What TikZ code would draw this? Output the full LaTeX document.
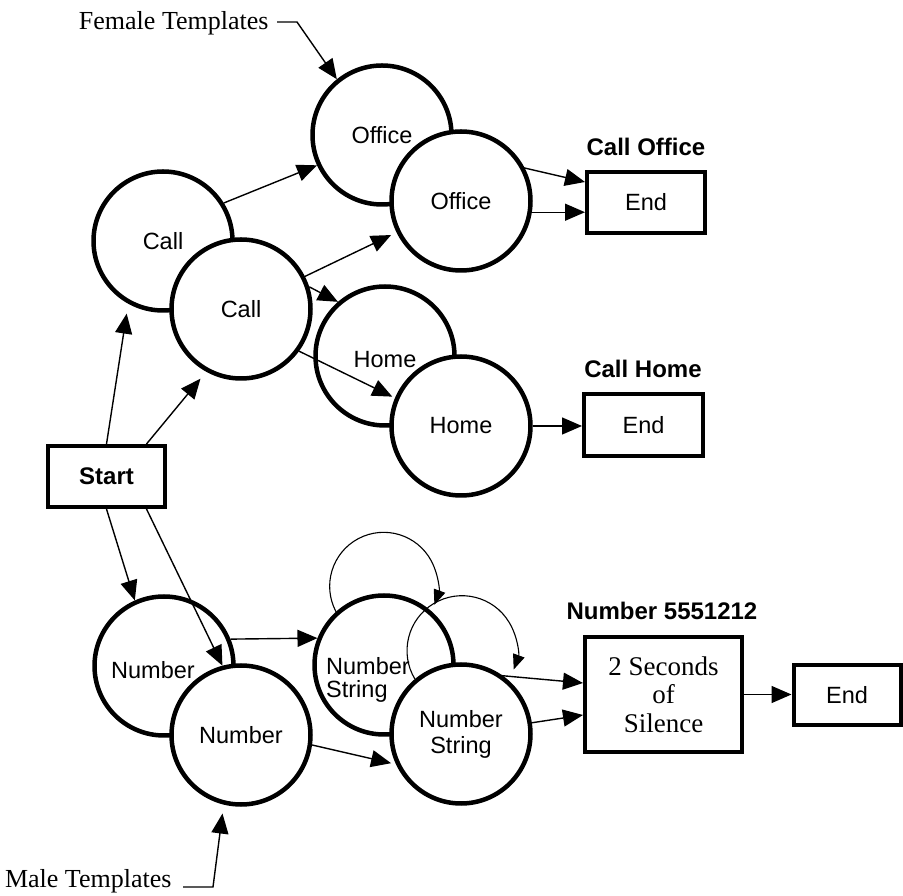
\documentclass[tikz,border=0pt]{standalone}
\usepackage{fontspec}
\setmainfont{Liberation Serif}
\setsansfont{Liberation Sans}
\usetikzlibrary{arrows.meta,calc}
\pgfdeclarelayer{bg}
\pgfsetlayers{bg,main}
\tikzset{
 cf/.style={font=\sffamily\fontsize{23.5}{26}\selectfont},
 st/.style={circle,draw,line width=4.5pt,fill=white,minimum size=139pt,inner sep=0pt,cf,align=center},
 bx/.style={rectangle,draw,line width=4pt,fill=white,inner sep=0pt,cf},
 lbl/.style={font=\sffamily\bfseries\fontsize{24}{26}\selectfont},
 ann/.style={font=\rmfamily\fontsize{26}{28}\selectfont},
 arr/.style={line width=1.4pt,-{Triangle[length=20pt,width=17pt]}},
 lp/.style={line width=1.1pt,-{Triangle[length=15pt,width=12pt]}},
}
\begin{document}
\begin{tikzpicture}[x=1pt,y=1pt]
\begin{pgfonlayer}{bg}
\fill[white] (0,0) rectangle (903,895);
\end{pgfonlayer}
\useasboundingbox (0,0) rectangle (903,895);
% circles
\node[st] (Call1) at (163,654) {Call};
\node[st] (Call2) at (241,586) {Call};
\node[st] (Office1) at (382,760) {Office};
\node[st] (Office2) at (461,694) {Office};
\node[st] (Home1) at (385,539) {};
\node[cf] (Home1t) at ($(Home1)+(0,-4)$) {Home};
\node[st] (Home2) at (461,469) {Home};
\node[st] (Number1) at (164,229) {};
\node[cf] (Number1t) at ($(Number1)+(-11,-4)$) {Number};
\node[st] (Number2) at (241,160) {Number};
\node[st] (NS1) at (384,230) {};
\node[font=\sffamily\fontsize{23.5}{23}\selectfont,align=left,inner sep=0pt] (NS1t) at ($(NS1)+(-16,-15)$) {Number\\String};
\node[st] (NS2) at (461,161) {Number\\String};
% boxes
\node[bx,minimum width=117pt,minimum height=61pt,font=\sffamily\bfseries\fontsize{24}{26}\selectfont] (Start) at (106.5,418.5) {Start};
\node[bx,minimum width=118pt,minimum height=61pt] (End1) at (646,692.5) {End};
\node[lbl] (lblOffice) at (646,748) {Call Office};
\node[bx,minimum width=119pt,minimum height=62pt] (End2) at (643.5,470) {End};
\node[lbl] (lblHome) at (643,526) {Call Home};
\node[bx,minimum width=157pt,minimum height=115pt,font=\rmfamily\fontsize{27}{28.5}\selectfont,align=center] (Sil) at (663.5,200.5) {2 Seconds\\of\\Silence};
\node[lbl] (lblNum) at (662,284) {Number 5551212};
\node[bx,minimum width=107pt,minimum height=60pt] (End3) at (847,200) {End};
% annotations
\node[ann,anchor=base east] (fem) at (272,865) {Female Templates};
\node[ann,anchor=base east] (male) at (175,8) {Male Templates};
\draw[arr] ($(fem.base east)+(5,8)$) -- ++(20,0) -- (Office1.129);
\draw[arr,shorten >=9pt] ($(male.base east)+(8,0)$) -- ++(30,0) -- (Number2.-104);
% hidden connectors
\begin{pgfonlayer}{bg}
\draw[arr] (Office1.center) -- ([yshift=20.5pt]End1.west);
\draw[arr] (NS1.center) -- ([yshift=11.5pt]Sil.west);
\end{pgfonlayer}
% connectors
\draw[arr,shorten >=10pt] (Start.north) -- (Call1.-119);
\draw[arr,shorten >=9pt] ([xshift=40pt]Start.north) -- (Call2.-119);
\draw[arr] (Call1.32) -- (Office1.-155);
\draw[arr,shorten >=6pt] (Call2.27) -- (Office2.-154);
\draw[arr] (Call2.18) -- (Home1.131);
\draw[arr,shorten >=3pt] (Call2.-36) -- (Home2.157);
\draw[arr] (Office2.-9) -- (Office2.-9 -| End1.west);
\draw[arr] (Home2.east) -- (Home2.east -| End2.west);
\draw[arr] (Start.south) -- (Number1.114);
\draw[arr] ([xshift=40pt]Start.south) -- (Number2.105);
\draw[arr] (Number1.22) -- (NS1.158);
\draw[arr,shorten >=5pt] (Number2.-8) -- (NS2.-155);
\draw[arr] (NS2.9) -- ([yshift=-20.5pt]Sil.west);
\draw[arr] (Sil.east) -- (Sil.east -| End3.west);
% self loops
\draw[lp] (NS1.132) arc[start angle=208,end angle=-20,radius=54pt];
\draw[lp] (NS2.130) arc[start angle=211,end angle=-20,radius=55pt];
\end{tikzpicture}
\end{document}
